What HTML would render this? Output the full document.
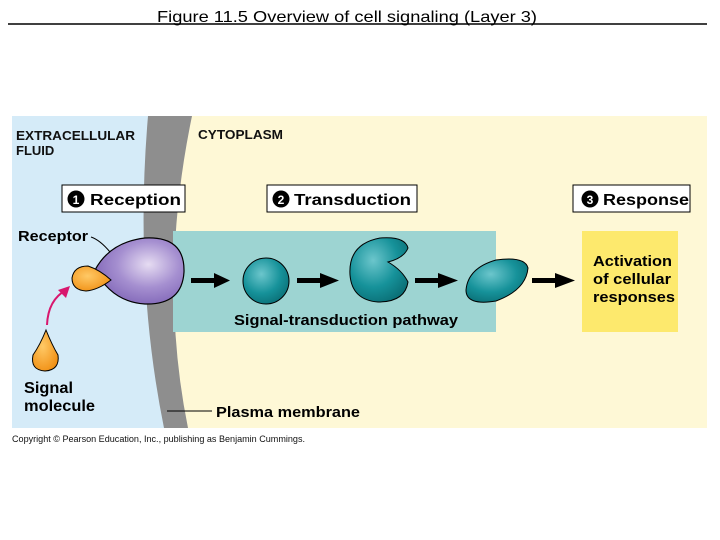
<!DOCTYPE html>
<html><head><style>
body{margin:0;background:#fff;width:720px;height:540px;overflow:hidden;font-family:"Liberation Sans",sans-serif}
svg{display:block}
text{}
</style></head><body>
<svg width="720" height="540" viewBox="0 0 720 540" font-family="Liberation Sans, sans-serif">
<defs>
<radialGradient id="pg" cx="0.6" cy="0.4" r="0.7"><stop offset="0" stop-color="#e6dcf2"/><stop offset="0.5" stop-color="#a58fd0"/><stop offset="1" stop-color="#7a5fb3"/></radialGradient>
<radialGradient id="tg" cx="0.4" cy="0.35" r="0.7"><stop offset="0" stop-color="#6cc6cc"/><stop offset="0.6" stop-color="#16929a"/><stop offset="1" stop-color="#0b7077"/></radialGradient>
<radialGradient id="og" cx="0.4" cy="0.4" r="0.7"><stop offset="0" stop-color="#ffc966"/><stop offset="1" stop-color="#f08d10"/></radialGradient>
</defs>
<text x="157" y="22" font-size="16" textLength="380" lengthAdjust="spacingAndGlyphs">Figure 11.5  Overview of cell signaling (Layer 3)</text>
<line x1="8" y1="24" x2="707" y2="24" stroke="#000" stroke-width="1.5"/>
<rect x="12" y="116" width="695" height="312" fill="#fef8d6"/>
<path d="M12 116 H150 Q134 280 166 428 H12 Z" fill="#d5ebf8"/>
<path d="M148 116 H192 Q158 280 188 428 H164 Q134 280 148 116 Z" fill="#8e8e8e"/>
<g lengthAdjust="spacingAndGlyphs">
<text x="16" y="140" font-size="13" font-weight="bold" fill="#111" textLength="119" lengthAdjust="spacingAndGlyphs">EXTRACELLULAR</text>
<text x="16" y="155" font-size="13" font-weight="bold" fill="#111">FLUID</text>
<text x="198" y="139" font-size="13" font-weight="bold" fill="#111" textLength="85" lengthAdjust="spacingAndGlyphs">CYTOPLASM</text>
</g>
<rect x="173" y="231" width="323" height="101" fill="#9dd4d2"/>
<rect x="582" y="231" width="96" height="101" fill="#fde96d"/>
<g stroke="#000" stroke-width="1" fill="#fff">
<rect x="62" y="185" width="123" height="27"/>
<rect x="267" y="185" width="150" height="27"/>
<rect x="573" y="185" width="117" height="27"/>
</g>
<g font-size="16" font-weight="bold">
<circle cx="76" cy="199" r="8.5" fill="#000"/><text x="76" y="204" font-size="12" fill="#fff" text-anchor="middle">1</text>
<text x="90" y="205" textLength="91" lengthAdjust="spacingAndGlyphs">Reception</text>
<circle cx="281" cy="199" r="8.5" fill="#000"/><text x="281" y="204" font-size="12" fill="#fff" text-anchor="middle">2</text>
<text x="294" y="205" textLength="117" lengthAdjust="spacingAndGlyphs">Transduction</text>
<circle cx="590" cy="199" r="8.5" fill="#000"/><text x="590" y="204" font-size="12" fill="#fff" text-anchor="middle">3</text>
<text x="603" y="205" textLength="86" lengthAdjust="spacingAndGlyphs">Response</text>
</g>
<text x="18" y="241" font-size="15" font-weight="bold" textLength="70" lengthAdjust="spacingAndGlyphs">Receptor</text>
<path d="M91 237 Q100 240 110 252" stroke="#000" fill="none"/>
<path d="M95 270 Q110 242 145 238 Q185 236 184 272 Q182 305 145 304 Q112 302 95 270 Z" fill="url(#pg)" stroke="#000" stroke-width="1.2"/>
<path d="M72 278 Q74 266 88 266 Q100 270 111 280 Q98 290 86 291 Q72 290 72 278 Z" fill="url(#og)" stroke="#000" stroke-width="1"/>
<path d="M47 325 Q48 300 66 290" stroke="#d8176e" stroke-width="2" fill="none"/>
<path d="M70 286 L58 290 L66 298 Z" fill="#d8176e"/>
<path d="M46 330 Q40 345 33 355 Q30 370 45 371 Q60 370 58 355 Q52 345 46 330 Z" fill="url(#og)" stroke="#000" stroke-width="1"/>
<text x="24" y="393" font-size="16" font-weight="bold" textLength="49" lengthAdjust="spacingAndGlyphs">Signal</text>
<text x="24" y="411" font-size="16" font-weight="bold" textLength="71" lengthAdjust="spacingAndGlyphs">molecule</text>
<line x1="167" y1="411" x2="212" y2="411" stroke="#000"/>
<text x="216" y="417" font-size="15" font-weight="bold" textLength="144" lengthAdjust="spacingAndGlyphs">Plasma membrane</text>
<g fill="#000">
<rect x="191" y="278" width="26" height="5"/><path d="M214 273 L230 280.5 L214 288 Z"/>
<rect x="297" y="278" width="26" height="5"/><path d="M320 273 L339 280.5 L320 288 Z"/>
<rect x="415" y="278" width="26" height="5"/><path d="M438 273 L458 280.5 L438 288 Z"/>
<rect x="532" y="278" width="26" height="5"/><path d="M555 273 L575 280.5 L555 288 Z"/>
</g>
<circle cx="266" cy="281" r="23" fill="url(#tg)" stroke="#000"/>
<path d="M350 275 Q348 244 380 238 Q405 236 408 248 Q404 258 388 262 Q402 270 408 282 Q405 302 378 302 Q352 300 350 275 Z" fill="url(#tg)" stroke="#000"/>
<path d="M466 290 Q468 268 496 260 Q525 256 528 268 Q526 290 496 301 Q466 306 466 290 Z" fill="url(#tg)" stroke="#000"/>
<text x="234" y="325" font-size="15" font-weight="bold" textLength="224" lengthAdjust="spacingAndGlyphs">Signal-transduction pathway</text>
<g font-size="15" font-weight="bold"><text x="593" y="266" textLength="79" lengthAdjust="spacingAndGlyphs">Activation</text><text x="593" y="284" textLength="78" lengthAdjust="spacingAndGlyphs">of cellular</text><text x="593" y="302" textLength="82" lengthAdjust="spacingAndGlyphs">responses</text></g>
<text x="12" y="442" font-size="9" fill="#111" textLength="293" lengthAdjust="spacingAndGlyphs">Copyright © Pearson Education, Inc., publishing as Benjamin Cummings.</text>
</svg>
</body></html>
